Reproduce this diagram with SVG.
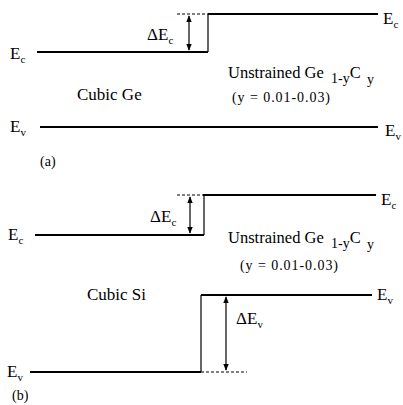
<svg xmlns="http://www.w3.org/2000/svg" width="403" height="405" viewBox="0 0 403 405" font-family="'Liberation Serif', 'DejaVu Serif', serif">
<style>
text{font-family:"Liberation Serif","DejaVu Serif",serif;fill:#000}
.lbl{font-size:17px}
.big{font-size:16.5px}
.cub{font-size:17px}
.sub{font-size:11px}
.par{font-size:14px}
.ln{stroke:#000;stroke-width:2;fill:none}
.thin{stroke:#000;stroke-width:1.2;fill:none}
.dash{stroke:#000;stroke-width:1.2;stroke-dasharray:3,2;fill:none}
.arr{stroke:#000;stroke-width:1.2;fill:none;marker-start:url(#ah);marker-end:url(#ah)}
</style>
<defs>
<marker id="ah" viewBox="0 0 10 10" refX="9" refY="5" markerWidth="7" markerHeight="7" orient="auto-start-reverse" markerUnits="userSpaceOnUse">
<path d="M0,1 L10,5 L0,9 z" fill="#000"/>
</marker>
</defs>
<g id="connectors">
<path class="ln" d="M37,52 H208"/>
<path class="thin" d="M208,52 V14"/>
<path class="ln" d="M208,14 H378"/>
<path class="dash" d="M177,14 H208"/>
<path class="arr" d="M189,16 V50"/>
<path class="ln" d="M40,127 H378"/>
<path class="dash" d="M177,195 H203"/>
<path class="ln" d="M203,195 H376"/>
<path class="thin" d="M204,195 V235"/>
<path class="ln" d="M35,235 H204"/>
<path class="arr" d="M190,197 V233"/>
<path class="ln" d="M201,295 H372"/>
<path class="thin" d="M201,295 V372"/>
<path class="ln" d="M30,372 H201"/>
<path class="dash" d="M201,372 H247"/>
<path class="arr" d="M226,297 V370"/>
</g>
<g id="panel-a">
<g id="a-ec-left"><text class="lbl" x="10" y="59">E<tspan class="sub" dy="4">c</tspan></text></g>
<g id="a-dec"><text class="lbl" x="147" y="40">Δ<tspan x="158">E</tspan><tspan class="sub" dy="4">c</tspan></text></g>
<g id="a-ec-right"><text class="lbl" x="383" y="24">E<tspan class="sub" dy="4">c</tspan></text></g>
<g id="a-gec"><text class="big" x="228" y="78">Unstrained Ge <tspan class="par" x="331" dy="5">1-y</tspan><tspan class="big" dy="-5">C</tspan><tspan class="par" x="367" dy="6">y</tspan></text></g>
<g id="a-cubic"><text class="cub" x="77" y="100">Cubic Ge</text></g>
<g id="a-range"><text class="par" x="232" y="102" textLength="98" lengthAdjust="spacing">(y = 0.01-0.03)</text></g>
<g id="a-ev-left"><text class="lbl" x="10" y="132">E<tspan class="sub" dy="4">v</tspan></text></g>
<g id="a-ev-right"><text class="lbl" x="385" y="136">E<tspan class="sub" dy="4">v</tspan></text></g>
<g id="a-label"><text class="par" x="40" y="166">(a)</text></g>
</g>
<g id="panel-b">
<g id="b-ec-left"><text class="lbl" x="8" y="240">E<tspan class="sub" dy="4">c</tspan></text></g>
<g id="b-dec"><text class="lbl" x="150" y="222">Δ<tspan x="161">E</tspan><tspan class="sub" dy="4">c</tspan></text></g>
<g id="b-ec-right"><text class="lbl" x="381" y="205">E<tspan class="sub" dy="4">c</tspan></text></g>
<g id="b-gec"><text class="big" x="228" y="243">Unstrained Ge <tspan class="par" x="331" dy="5">1-y</tspan><tspan class="big" dy="-5">C</tspan><tspan class="par" x="367" dy="6">y</tspan></text></g>
<g id="b-range"><text class="par" x="240" y="270" textLength="98" lengthAdjust="spacing">(y = 0.01-0.03)</text></g>
<g id="b-cubic"><text class="cub" x="87" y="300">Cubic Si</text></g>
<g id="b-ev-right"><text class="lbl" x="377" y="300">E<tspan class="sub" dy="4">v</tspan></text></g>
<g id="b-dev"><text class="lbl" x="236" y="324">Δ<tspan x="247">E</tspan><tspan class="sub" dy="4">v</tspan></text></g>
<g id="b-ev-left"><text class="lbl" x="7" y="377">E<tspan class="sub" dy="4">v</tspan></text></g>
<g id="b-label"><text class="par" x="12" y="400">(b)</text></g>
</g>
</svg>
